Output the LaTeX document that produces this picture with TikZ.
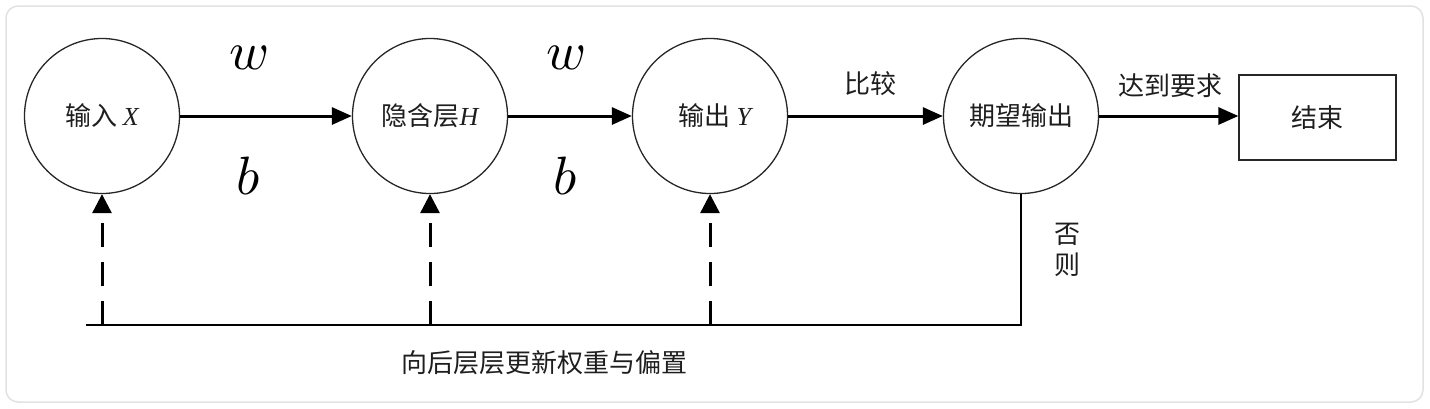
\documentclass[tikz,border=0pt]{standalone}
\usepackage{fontspec}
\setmainfont{Noto Sans CJK SC}
\newfontfamily\latinserif{Liberation Serif}
\usetikzlibrary{arrows.meta}
\definecolor{framegray}{HTML}{E2E2E2}
\definecolor{txt}{HTML}{1E1E1E}
\tikzset{
  circ/.style={draw=black!85, line width=1.3pt, circle, minimum size=155pt, inner sep=0pt, text=txt, font=\fontsize{26}{30}\selectfont},
  endbox/.style={draw=black!85, line width=1.3pt, rectangle, minimum width=157pt, minimum height=85pt, text=txt, font=\fontsize{26}{30}\selectfont},
  flow/.style={line width=3pt, -{Triangle[length=20pt,width=17pt]}},
  dasharrow/.style={line width=3pt, dash pattern=on 24pt off 15pt, -{Triangle[length=19pt,width=19pt]}},
  backline/.style={line width=1.6pt},
  lbl/.style={text=txt, font=\fontsize{26}{30}\selectfont, inner sep=0pt},
  mathlbl/.style={text=black, inner sep=0pt}
}
\newcommand{\itvar}[1]{{\latinserif\itshape #1}}
\newcommand{\bigmath}[1]{\scalebox{5.4}{$#1$}}
\begin{document}
\begin{tikzpicture}[x=1pt,y=-1pt]
\useasboundingbox (0,0) rectangle (1430,408);
\fill[white] (0,0) rectangle (1430,408);
\draw[framegray, line width=1.5pt, fill=white, rounded corners=12pt] (6,6) rectangle (1423,402);

\node[circ] (in) at (102,116) {输入 \itvar{X}};
\node[circ] (hid) at (430,116) {隐含层\itvar{H}};
\node[circ] (out) at (710,116) {\hspace*{10pt}输出 \itvar{Y}};
\node[circ] (exp) at (1021,116) {期望输出};
\node[endbox] (end) at (1317.5,117.5) {结束};

\draw[flow] (in) -- (hid);
\draw[flow] (hid) -- (out);
\draw[flow] (out) -- (exp);
\draw[flow] (exp.east) -- (exp.east -| end.west);

\node[mathlbl] (w1) at (250,58) {\bigmath{w}};
\node[mathlbl] (b1) at (248,176) {\bigmath{b}};
\node[mathlbl] (w2) at (567,58) {\bigmath{w}};
\node[mathlbl] (b2) at (565,176) {\bigmath{b}};
\node[lbl] (cmp) at (870,84) {比较};
\node[lbl] (ok) at (1170,86) {达到要求};
\node[lbl] (no1) at (1067,234) {否};
\node[lbl] (no2) at (1067,265) {则};

\coordinate (lineL) at (86,325);
\coordinate (corner) at (1021,325);
\coordinate (d1) at (102,325);
\coordinate (d2) at (430,325);
\coordinate (d3) at (710,325);
\draw[backline] (exp.south) -- (corner) -- (lineL);
\draw[dasharrow] (d1) -- (in.south);
\draw[dasharrow] (d2) -- (hid.south);
\draw[dasharrow] (d3) -- (out.south);

\node[lbl] (upd) at (544,363) {向后层层更新权重与偏置};
\end{tikzpicture}
\end{document}
